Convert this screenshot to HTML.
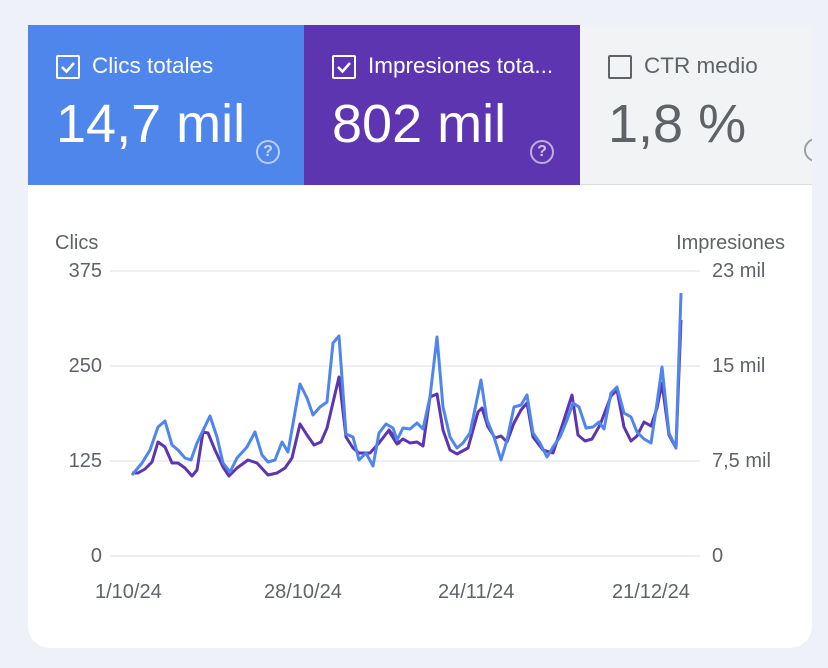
<!DOCTYPE html>
<html><head><meta charset="utf-8"><style>
body{margin:0;width:828px;height:668px;background:#eef1f8;font-family:"Liberation Sans",Arial,sans-serif;overflow:hidden;position:relative}
.card{position:absolute;left:28px;top:25px;width:784px;height:623px;background:#fff;border-radius:0 0 22px 22px;overflow:hidden}
.tile{position:absolute;top:0;height:160px}
.cb{position:absolute;left:28px;top:30px;width:20px;height:20px;border:2px solid #fff;border-radius:2px}
.lab{position:absolute;left:64px;top:28px;font-size:22.5px;color:#fff;white-space:nowrap}
.big{position:absolute;left:28px;top:68px;font-size:54px;color:#fff;white-space:nowrap}
.q{position:absolute;width:20px;height:20px;border:2px solid rgba(255,255,255,.6);border-radius:50%;color:rgba(255,255,255,.7);font-size:16px;text-align:center;line-height:20px;font-weight:bold}
.t{position:absolute;font-size:20px;color:#5f6368}
</style></head><body>
<div class="card">
 <div class="tile" style="left:0;width:276px;background:#4f86ec">
  <div class="cb"><svg width="20" height="20"><path d="M4 10 L8.5 14.5 L16 6" stroke="#fff" stroke-width="2.5" fill="none"/></svg></div>
  <div class="lab">Clics totales</div><div class="big">14,7 mil</div>
  <div class="q" style="left:228px;top:115px">?</div>
 </div>
 <div class="tile" style="left:276px;width:276px;background:#5e35b1">
  <div class="cb"><svg width="20" height="20"><path d="M4 10 L8.5 14.5 L16 6" stroke="#fff" stroke-width="2.5" fill="none"/></svg></div>
  <div class="lab">Impresiones tota...</div><div class="big">802 mil</div>
  <div class="q" style="left:226px;top:115px">?</div>
 </div>
 <div class="tile" style="left:552px;width:232px;background:#f1f3f4;border-bottom:1px solid #dadce0;height:159px">
  <div class="cb" style="border-color:#5f6368"></div>
  <div class="lab" style="color:#5f6368">CTR medio</div><div class="big" style="color:#5f6368">1,8 %</div>
  <div class="q" style="left:224px;top:113px;border-color:#9aa0a6"></div>
 </div>
</div>
<div class="t" style="left:55px;top:232px">Clics</div>
<div class="t" style="right:43px;top:232px">Impresiones</div>
<div class="t" style="right:726px;top:260px">375</div>
<div class="t" style="right:726px;top:355px">250</div>
<div class="t" style="right:726px;top:450px">125</div>
<div class="t" style="right:726px;top:545px">0</div>
<div class="t" style="left:712px;top:260px">23 mil</div>
<div class="t" style="left:712px;top:355px">15 mil</div>
<div class="t" style="left:712px;top:450px">7,5 mil</div>
<div class="t" style="left:712px;top:545px">0</div>
<div class="t" style="left:95px;top:581px">1/10/24</div>
<div class="t" style="left:264px;top:581px">28/10/24</div>
<div class="t" style="left:438px;top:581px">24/11/24</div>
<div class="t" style="left:612px;top:581px">21/12/24</div>
<svg width="828" height="668" style="position:absolute;left:0;top:0">
<g stroke="#e8eaed" stroke-width="1.5">
<line x1="110" y1="271" x2="700" y2="271"/><line x1="110" y1="366" x2="700" y2="366"/><line x1="110" y1="461" x2="700" y2="461"/><line x1="110" y1="556" x2="700" y2="556"/></g>
<polyline fill="none" stroke="#5e35b1" stroke-width="3" stroke-linejoin="round" points="132,473 138,473 145,469 152,462 158,442 165,447 172,463 178,463 185,468 192,476 197,470 203,432 208,433 215,450 223,467 229,476 237,468 248,460 257,463 268,475 277,473 285,468 292,458 300,424 307,435 314,445 321,442 327,428 339,377 346,437 353,448 359,453 370,453 379,443 389,430 399,443 390,433 397,444 403,439 410,443 417,442 423,446 430,397 437,394 443,430 450,450 457,454 468,448 478,412 482,408 488,427 495,438 501,436 507,442 514,423 521,410 527,403 533,437 543,450 553,453 563,423 572,395 578,435 585,441 592,439 600,425 611,396 617,390 624,427 631,441 637,436 644,422 651,426 657,408 662,383 669,435 676,448 681,320"/>
<polyline fill="none" stroke="#4f86ec" stroke-width="3" stroke-linejoin="round" points="132,475 142,463 150,450 158,427 165,421 172,445 178,450 185,458 191,460 197,443 210,416 217,437 223,463 230,472 237,458 247,447 255,432 262,455 268,462 275,460 282,442 288,452 300,384 307,398 313,415 320,407 327,402 333,343 339,336 346,434 353,437 359,460 366,453 373,466 379,433 386,424 393,428 397,440 403,428 410,429 417,423 423,429 430,397 437,337 443,407 450,437 457,448 463,443 470,433 481,380 487,420 494,437 501,460 507,440 514,407 521,405 527,395 533,433 540,443 547,457 553,447 560,437 567,420 573,403 579,407 586,428 593,427 599,422 604,429 611,393 617,387 624,413 631,417 637,432 644,439 651,443 657,403 662,367 669,433 676,448 681,293"/>
</svg>
</body></html>
